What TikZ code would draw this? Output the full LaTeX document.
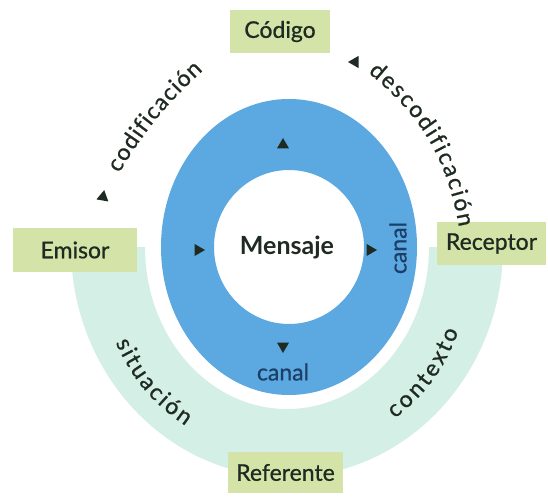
\documentclass[tikz,border=0pt]{standalone}
\usepackage{fontspec}
\setmainfont{Lato}
\newfontfamily\labelfont{Lato}[FakeBold=0.8]
\usepackage{xcolor}
\usetikzlibrary{shapes.geometric, decorations.text}
\definecolor{boxgreen}{HTML}{D4E4A8}
\definecolor{mint}{HTML}{D4EFE6}
\definecolor{ringblue}{HTML}{5CA8E0}
\definecolor{labeltext}{HTML}{1F2B22}
\definecolor{canalblue}{HTML}{1C3F66}
\newcommand{\boxfont}{\labelfont\fontsize{23}{25}\selectfont}
\newcommand{\arcfont}{\labelfont\fontsize{23}{25}\selectfont}

\begin{document}
\begin{tikzpicture}[x=1pt, y=1pt,
    rolebox/.style={fill=boxgreen, minimum height=43pt, inner sep=0pt, text=labeltext, font=\boxfont},
    marker/.style={regular polygon, regular polygon sides=3, fill=labeltext, minimum size=14pt, inner sep=0pt},
    arclabel/.style={decorate, decoration={text along path, text align=fit to path, raise=-6pt}}]
    \useasboundingbox (0,0) rectangle (548,496);
    \coordinate (c) at (289,249);

    \fill[mint] (71,249) arc[start angle=180, end angle=360, x radius=216, y radius=230]
        -- (429,249) arc[start angle=0, end angle=-180, x radius=142, y radius=162] -- cycle;
    \fill[ringblue, even odd rule] (c) ellipse[x radius=128, y radius=148] (c) ellipse[x radius=75, y radius=77];

    \node[rolebox, minimum width=100pt] (codigo) at (280,464.5) {Código};
    \node[rolebox, minimum width=124pt, minimum height=44pt] (emisor) at (75,246) {Emisor};
    \node[rolebox, minimum width=109pt] (receptor) at (491.5,252.5) {Receptor};
    \node[rolebox, minimum width=115pt, minimum height=41pt] (referente) at (285.5,23.5) {Referente};

    \node[font=\bfseries\fontsize{25}{27}\selectfont, text=labeltext] (mensaje) at (287,249) {Mensaje};
    \node[font=\arcfont, text=canalblue, rotate=90] (canalder) at (398,248) {canal};
    \node[font=\arcfont, text=canalblue] (canalinf) at (283,124) {canal};

    \node[marker] (up) at (283,351) {};
    \node[marker, rotate=-90] (in) at (198,246) {};
    \node[marker, rotate=-90] (out) at (370,246) {};
    \node[marker, rotate=180] (down) at (283,150) {};
    \node[marker, rotate=110] (enc) at (103,299) {};
    \node[marker, rotate=-150] (dec) at (355,434) {};

    \coordinate (codA) at (114,326);
    \coordinate (codB) at (199,430);
    \coordinate (decA) at (372,428);
    \coordinate (decB) at (465,270);
    \coordinate (sitA) at (121,156);
    \coordinate (sitB) at (189,75);
    \coordinate (conA) at (391,82);
    \coordinate (conB) at (453,167);

    \path[arclabel, decoration={text={|\arcfont\color{labeltext}|codificación}}] (codA) to[bend left=8] (codB);
    \path[arclabel, decoration={text={|\arcfont\color{labeltext}|descodificación}}] (decA) to[bend left=20] (decB);
    \path[arclabel, decoration={text={|\arcfont\color{labeltext}|situación}}] (sitA) to[bend right=15] (sitB);
    \path[arclabel, decoration={text={|\arcfont\color{labeltext}|contexto}}] (conA) to[bend right=15] (conB);
\end{tikzpicture}
\end{document}
